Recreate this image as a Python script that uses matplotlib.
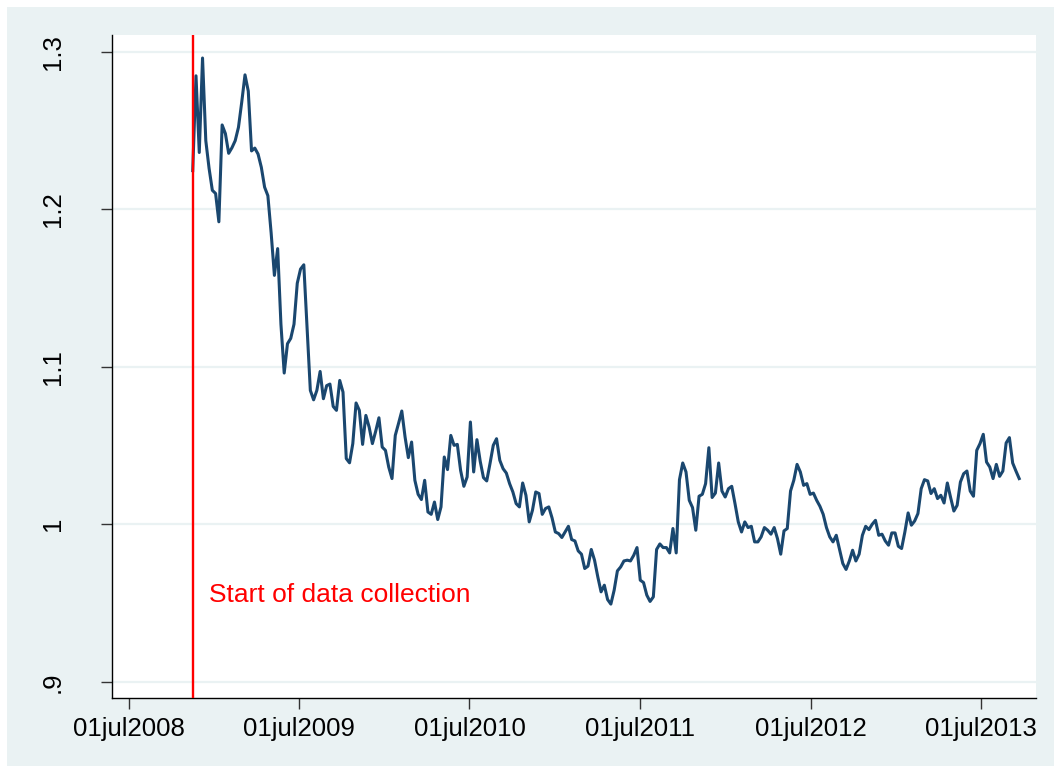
import matplotlib
matplotlib.use("Agg")
import matplotlib.pyplot as plt
from matplotlib.patches import Rectangle
import pandas as pd

plt.rcParams['font.family'] = ['Liberation Sans', 'DejaVu Sans']

# ---- data (weekly series) ----
start_date = "2008-11-15"
values = [
    1.2245, 1.2847, 1.236, 1.296, 1.2435, 1.226, 1.212, 1.21, 1.192, 1.2535,
    1.248, 1.2355, 1.239, 1.2435, 1.252, 1.268, 1.2853, 1.275, 1.237, 1.2388,
    1.235, 1.2266, 1.214, 1.2086, 1.185, 1.158, 1.175, 1.127, 1.096, 1.1146,
    1.118, 1.127, 1.153, 1.162, 1.1647, 1.125, 1.085, 1.079, 1.085, 1.097,
    1.0797, 1.088, 1.089, 1.0748, 1.0723, 1.0913, 1.0839, 1.0417, 1.039, 1.0512,
    1.077, 1.0723, 1.0507, 1.0691, 1.0617, 1.0512, 1.059, 1.0676, 1.049, 1.0469,
    1.0363, 1.029, 1.0564, 1.064, 1.0719, 1.0554, 1.0423, 1.0522, 1.0279, 1.019,
    1.0157, 1.0279, 1.0078, 1.0063, 1.0141, 1.003, 1.011, 1.0427, 1.0347, 1.0564,
    1.0501, 1.0507, 1.0342, 1.0241, 1.03, 1.0649, 1.0332, 1.0537, 1.040, 1.0296,
    1.0275, 1.0385, 1.0501, 1.0543, 1.0406, 1.0353, 1.0325, 1.0258, 1.0205, 1.0131,
    1.011, 1.0262, 1.0184, 1.0015, 1.0089, 1.0205, 1.0195, 1.0063, 1.01, 1.011,
    1.004, 0.9951, 0.9941, 0.9916, 0.9951, 0.9987, 0.9903, 0.9894, 0.9831, 0.981,
    0.9719, 0.9734, 0.984, 0.9772, 0.9666, 0.9571, 0.9613, 0.9522, 0.9493, 0.9581,
    0.9704, 0.9729, 0.9767, 0.9772, 0.9767, 0.9803, 0.9852, 0.9645, 0.963, 0.955,
    0.951, 0.9539, 0.984, 0.9875, 0.9852, 0.9852, 0.9818, 0.9973, 0.9818, 1.0283,
    1.0389, 1.0332, 1.0152, 1.0106, 0.9962, 1.0178, 1.019, 1.0258, 1.0486, 1.017,
    1.0198, 1.0389, 1.0211, 1.0173, 1.0226, 1.0241, 1.0131, 1.0015, 0.9951, 1.0015,
    0.9979, 0.9987, 0.9888, 0.9888, 0.992, 0.9979, 0.9962, 0.9937, 0.9979, 0.9909,
    0.981, 0.9958, 0.9973, 1.0211, 1.0279, 1.038, 1.0332, 1.0247, 1.0258, 1.019,
    1.0198, 1.0152, 1.0114, 1.0063, 0.9979, 0.992, 0.9888, 0.993, 0.984, 0.9751,
    0.9713, 0.9767, 0.9835, 0.9767, 0.981, 0.993, 0.9987, 0.9966, 1.0, 1.0025,
    0.993, 0.9937, 0.9894, 0.9867, 0.9945, 0.9945, 0.986, 0.9846, 0.9951, 1.0072,
    0.9994, 1.0021, 1.0068, 1.0226, 1.0283, 1.0275, 1.0195, 1.0226, 1.0163, 1.0184,
    1.0135, 1.0262, 1.017, 1.0084, 1.012, 1.0268, 1.0321, 1.0338, 1.0211, 1.0178,
    1.0469, 1.0512, 1.0571, 1.0395, 1.0363, 1.029, 1.038, 1.0304, 1.0338, 1.0516,
    1.055, 1.0389, 1.0338, 1.029,
]
dates = pd.date_range(start_date, periods=len(values), freq="7D")

collection_start = pd.Timestamp("2008-11-15")
annotation_text = "Start of data collection"
annotation_date = pd.Timestamp("2008-12-19")
annotation_y = 0.955

y_ticks = [0.9, 1.0, 1.1, 1.2, 1.3]
y_tick_labels = [".9", "1", "1.1", "1.2", "1.3"]
x_ticks = [pd.Timestamp(f"{y}-07-01") for y in range(2008, 2014)]
x_tick_labels = [f"01jul{y}" for y in range(2008, 2014)]

# ---- style ----
BG = "#EAF2F3"
LINE = "#1A476F"

W, H = 1061, 773
fig = plt.figure(figsize=(W / 100, H / 100), dpi=100, facecolor="white")
bg_rect = Rectangle((7 / W, 7 / H), (W - 14) / W, (H - 14) / H,
                    transform=fig.transFigure, facecolor=BG,
                    edgecolor="none", zorder=-10)
fig.patches.append(bg_rect)

ax = fig.add_axes([112 / W, 1 - 698 / H, (1036 - 112) / W, (698 - 35) / H])
ax.set_zorder(5)
ax.set_facecolor("white")

ax.plot(dates, values, color=LINE, linewidth=2.2, zorder=3, solid_joinstyle="round")
ax.axvline(collection_start, color="#FF0000", linewidth=1.7, zorder=4)
ax.text(annotation_date, annotation_y, annotation_text, color="#FF0000",
        fontsize=19, ha="left", va="center", zorder=5)

ax.set_ylim(0.8897, 1.3106)
ax.set_xlim(pd.Timestamp("2008-05-26"), pd.Timestamp("2013-10-27"))

ax.set_yticks(y_ticks)
ax.set_yticklabels(y_tick_labels, rotation=90, va="center", fontsize=18.5)
ax.set_xticks(x_ticks)
ax.set_xticklabels(x_tick_labels, fontsize=18.5)

ax.grid(axis="y", color=BG, linewidth=1.6, zorder=1)
ax.grid(axis="x", visible=False)
ax.set_axisbelow(True)

for s in ["top", "right"]:
    ax.spines[s].set_visible(False)
for s in ["left", "bottom"]:
    ax.spines[s].set_color("black")
    ax.spines[s].set_linewidth(1.0)

ax.tick_params(axis="both", direction="out", length=8, width=1.0, color="#333333")
ax.tick_params(axis="y", pad=26)
ax.tick_params(axis="x", pad=6)

fig.savefig("out.png", dpi=100, facecolor="white")
